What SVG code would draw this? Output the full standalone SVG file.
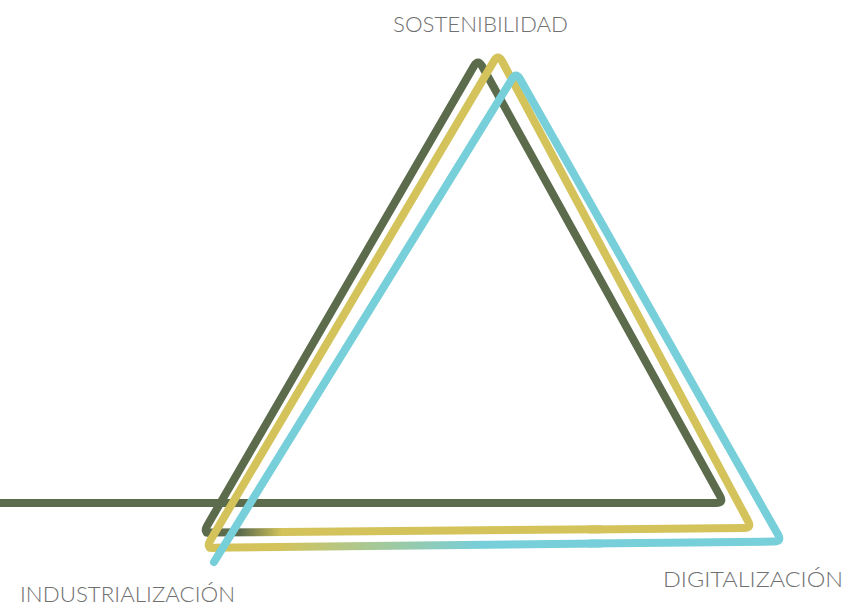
<svg xmlns="http://www.w3.org/2000/svg" width="851" height="608" viewBox="0 0 851 608">
  <style>
    .line { fill: none; stroke-width: 8; stroke-linecap: round; stroke-linejoin: round; }
    .green { stroke: #5b6b4c; }
    .yellow { stroke: #d3c35a; }
    .cyan { stroke: #77cfd9; }
    .label { font-family: "Lato", "Open Sans", "Liberation Sans", sans-serif; font-weight: 300; font-size: 21px; fill: #707070; }
  </style>
  <defs>
    <linearGradient id="greenToYellow" gradientUnits="userSpaceOnUse" x1="240" y1="0" x2="282" y2="0">
      <stop offset="0" stop-color="#5b6b4c"/>
      <stop offset="1" stop-color="#d3c35a"/>
    </linearGradient>
    <linearGradient id="yellowToCyan" gradientUnits="userSpaceOnUse" x1="280" y1="0" x2="480" y2="0">
      <stop offset="0" stop-color="#d3c35a"/>
      <stop offset="0.45" stop-color="#a8c894"/>
      <stop offset="1" stop-color="#77cfd9"/>
    </linearGradient>
  </defs>

  <!-- one continuous line spiralling through three triangles -->
  <g id="connectors">
    <path class="line green" d="M -4 503 L 716 503 Q 724 503 720 496 L 482 66 Q 478 59 474 66 L 207 526 Q 203 533 211 533"/>
    <path class="line" stroke="url(#greenToYellow)" d="M 207 532.6 L 600 529.3"/>
    <path class="line yellow" d="M 590 529.4 L 744 528 Q 752 528 748 521 L 502 61 Q 498 54 494 61 L 210 541 Q 206 548 214 548"/>
    <path class="line" stroke="url(#yellowToCyan)" d="M 210 547.8 L 600 543.5"/>
    <path class="line cyan" d="M 590 543.6 L 774 541.6 Q 782 541.6 778 534.6 L 520 79 Q 516 72 512 79 L 214 562"/>
  </g>

  <g id="node-sostenibilidad">
    <text class="label" x="393" y="32" textLength="175" lengthAdjust="spacingAndGlyphs">SOSTENIBILIDAD</text>
  </g>
  <g id="node-industrializacion">
    <text class="label" x="20" y="602" textLength="215" lengthAdjust="spacingAndGlyphs">INDUSTRIALIZACIÓN</text>
  </g>
  <g id="node-digitalizacion">
    <text class="label" x="663" y="587" textLength="180" lengthAdjust="spacingAndGlyphs">DIGITALIZACIÓN</text>
  </g>
</svg>
